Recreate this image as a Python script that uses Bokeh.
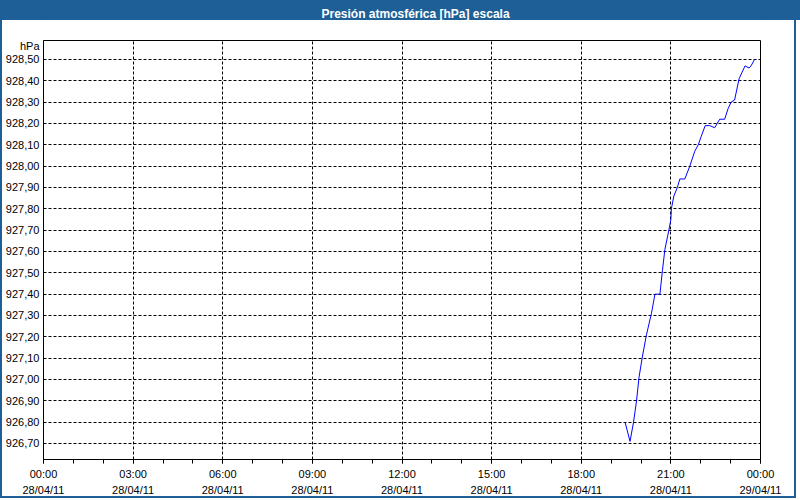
import pandas as pd
from bokeh.plotting import figure
from bokeh.layouts import column
from bokeh.models import FixedTicker, DatetimeTickFormatter, ColumnDataSource, Range1d
from bokeh.embed import file_html
from bokeh.resources import INLINE
from bokeh.core.properties import value

# ---------------- data ----------------
TITLE = "Presión atmosférica [hPa] escala"
UNIT = "hPa"
DAY = "2011-04-28"
day_start = "2011-04-28 00:00"
day_end = "2011-04-29 00:00"

times = ["19:28", "19:38", "19:45", "19:51", "19:56", "20:03", "20:11", "20:21",
         "20:28", "20:38", "20:43", "20:48", "20:56", "21:00", "21:01", "21:06",
         "21:13", "21:18", "21:28", "21:38", "21:48", "21:55", "22:01", "22:09",
         "22:18", "22:28", "22:38", "22:48", "22:55", "23:01", "23:08", "23:17",
         "23:23", "23:29", "23:37", "23:41", "23:48"]
pressure = [926.80, 926.71, 926.80, 926.90, 927.01, 927.11, 927.21, 927.31,
            927.40, 927.40, 927.51, 927.61, 927.70, 927.75, 927.80, 927.86,
            927.90, 927.94, 927.94, 928.00, 928.07, 928.10, 928.14, 928.19,
            928.19, 928.18, 928.22, 928.22, 928.27, 928.30, 928.31, 928.41,
            928.44, 928.47, 928.46, 928.47, 928.50]

y_ticks = [926.70, 926.80, 926.90, 927.00, 927.10, 927.20, 927.30, 927.40,
           927.50, 927.60, 927.70, 927.80, 927.90, 928.00, 928.10, 928.20,
           928.30, 928.40, 928.50]
y_min, y_max = 926.625, 928.589

# ---------------- styling ----------------
BLUE = "#1D5F96"
FONT = "Liberation Sans"
UNIT_Y = 928.561   # where the unit label sits in the label column
TITLE_X, TITLE_Y = 415, 6.5   # title bar pixel position (bar is 800 x 20)

src = ColumnDataSource(dict(
    t=pd.to_datetime([f"{DAY} {h}" for h in times]),
    v=pressure,
))

x0 = pd.Timestamp(day_start)
x1 = pd.Timestamp(day_end)
major = pd.date_range(x0, x1, freq="3h")
minor = pd.date_range(x0, x1, freq="1h")
major_ms = [float(v) for v in (major.asi8 // 10**6)]
minor_ms = [float(v) for v in (minor.asi8 // 10**6)]

# title bar
tp = figure(width=800, height=20, x_range=Range1d(0, 800), y_range=Range1d(0, 20),
            x_axis_type=None, y_axis_type=None, toolbar_location=None,
            output_backend="svg", min_border=0)
tp.grid.visible = False
tp.outline_line_color = None
tp.background_fill_color = BLUE
tp.border_fill_color = BLUE
tp.styles = {"background-color": BLUE}
tp.text(x=[TITLE_X], y=[TITLE_Y], text=[TITLE], text_align="center",
        text_baseline="alphabetic", text_color="white", text_font=value(FONT),
        text_font_style="bold", text_font_size="12px")

# chart
p = figure(width=796, height=478, x_axis_type="datetime",
           x_range=Range1d(x0, x1), y_range=Range1d(y_min, y_max),
           toolbar_location=None, output_backend="svg",
           min_border_left=38, min_border_right=38, min_border_top=20, min_border_bottom=38)
p.styles = {"border-left": f"2px solid {BLUE}", "border-right": f"2px solid {BLUE}",
            "border-bottom": f"2px solid {BLUE}"}
p.background_fill_color = "white"
p.border_fill_color = "white"
p.outline_line_color = "black"
p.outline_line_alpha = 1

p.line(x="t", y="v", source=src, line_color="#0000FF", line_width=1)

xa = p.xaxis[0]
xa.ticker = FixedTicker(ticks=major_ms, minor_ticks=minor_ms)
fmt = "%H:%M\n%d/%m/%y"
xa.formatter = DatetimeTickFormatter(minutes=fmt, hourmin=fmt, hours=fmt, days=fmt,
                                     months=fmt, years=fmt)
xa.major_tick_in = 0
xa.major_tick_out = 4
xa.minor_tick_in = 0
xa.minor_tick_out = 4
xa.major_label_standoff = 4
xa.major_label_text_line_height = 1.35

ya = p.yaxis[0]
ya.ticker = FixedTicker(ticks=y_ticks + [UNIT_Y])
overrides = {v: f"{v:.2f}".replace(".", ",") for v in y_ticks}
overrides[UNIT_Y] = UNIT
ya.major_label_overrides = overrides
ya.major_tick_in = 0
ya.major_tick_out = 0
ya.minor_tick_in = 0
ya.minor_tick_out = 0
ya.major_label_standoff = 4

for ax in (xa, ya):
    ax.axis_line_color = "black"
    ax.major_tick_line_color = "black"
    ax.minor_tick_line_color = "black"
    ax.major_label_text_font = FONT
    ax.major_label_text_font_size = "11px"
    ax.major_label_text_color = "black"

p.xgrid[0].ticker = FixedTicker(ticks=major_ms)
p.ygrid[0].ticker = FixedTicker(ticks=y_ticks)
for g in (p.xgrid[0], p.ygrid[0]):
    g.grid_line_color = "black"
    g.grid_line_alpha = 1
    g.grid_line_dash = "3 2"
    g.grid_line_width = 1

layout = column(tp, p)
open("out.html", "w").write(file_html(layout, INLINE))
